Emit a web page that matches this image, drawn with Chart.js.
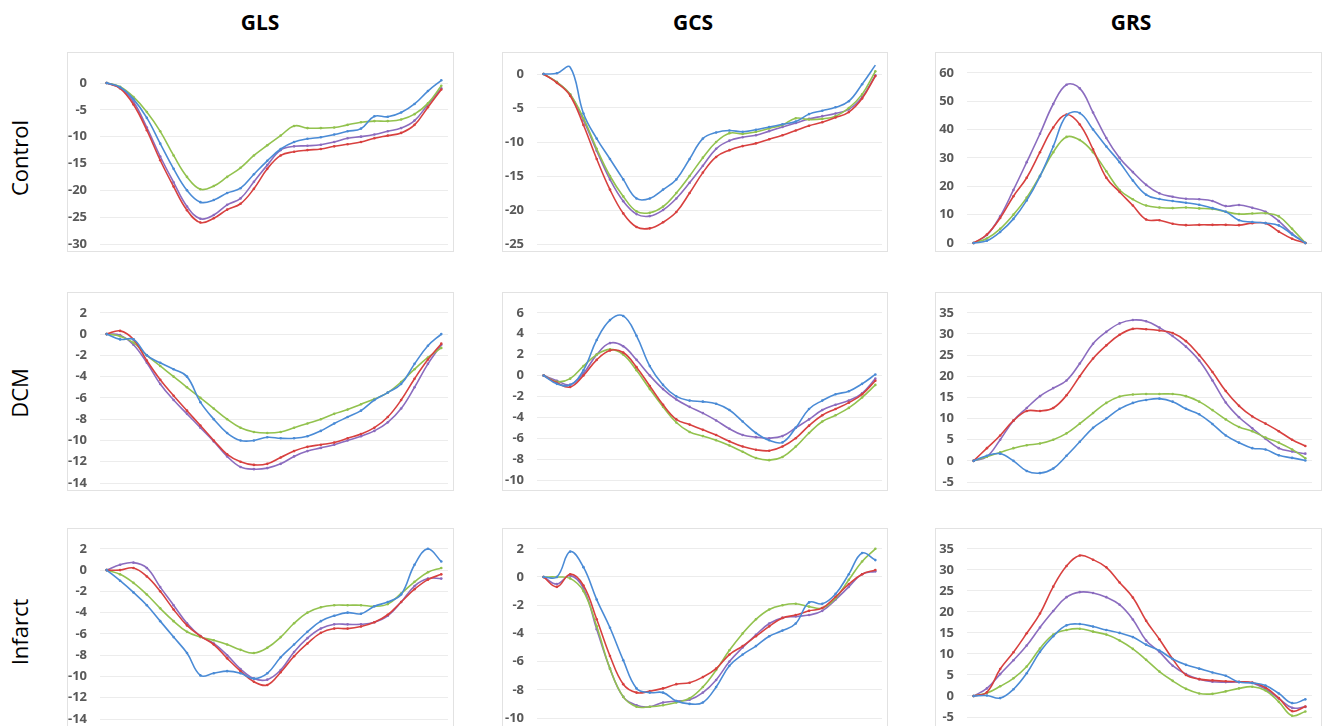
<!DOCTYPE html>
<html>
<head>
<meta charset="utf-8">
<script src="https://cdn.jsdelivr.net/npm/chart.js@4.4.0/dist/chart.umd.min.js"></script>
<style>
  body { margin: 0; width: 1323px; height: 726px; overflow: hidden; background: #fff; position: relative; font-family: "Open Sans", sans-serif; }
  canvas { position: absolute; }
  .box { position: absolute; border: 1px solid #e2e2e2; box-sizing: border-box; pointer-events: none; }
  .title { position: absolute; font-weight: 700; font-size: 21px; line-height: 1; transform: translate(-50%, -50%); color: #000; }
  .row { position: absolute; font-size: 22px; line-height: 1; white-space: nowrap; transform: translate(-50%, -50%) rotate(-90deg); color: #000; }
</style>
</head>
<body>
<div class="title" style="left:260px;top:22px">GLS</div>
<div class="title" style="left:693px;top:22px">GCS</div>
<div class="title" style="left:1131px;top:22px">GRS</div>
<div class="row" style="left:19px;top:158px">Control</div>
<div class="row" style="left:19px;top:393px">DCM</div>
<div class="row" style="left:19px;top:632px">Infarct</div>
<script>
// frames of the cycle (x categories, not shown)
const frames = [1,2,3,4,5,6,7,8,9,10,11,12,13,14,15,16,17,18,19,20,21,22,23,24,25,26];

// tick labels
const glsControlTicks = [-30,-25,-20,-15,-10,-5,0];
const gcsControlTicks = [-25,-20,-15,-10,-5,0];
const grsControlTicks = [0,10,20,30,40,50,60];
const glsDcmTicks = [-14,-12,-10,-8,-6,-4,-2,0,2];
const gcsDcmTicks = [-10,-8,-6,-4,-2,0,2,4,6];
const grsDcmTicks = [-5,0,5,10,15,20,25,30,35];
const glsInfarctTicks = [-14,-12,-10,-8,-6,-4,-2,0,2];
const gcsInfarctTicks = [-10,-8,-6,-4,-2,0,2];
const grsInfarctTicks = [-5,0,5,10,15,20,25,30,35];

// GLS - Control
const glsControlBlue   = [0,-0.8,-3,-6.5,-11.3,-16,-20,-22.2,-21.8,-20.5,-19.6,-17,-14.5,-12.3,-11,-10.4,-10.1,-9.6,-9,-8.5,-6.2,-6.3,-5.5,-3.9,-1.5,0.5];
const glsControlRed    = [0,-1,-4,-8.8,-14.4,-19.3,-23.7,-26,-25.2,-23.6,-22.5,-19.7,-16,-13.5,-12.8,-12.5,-12.3,-11.8,-11.4,-11,-10.3,-9.8,-9.3,-7.8,-4.5,-1.2];
const glsControlGreen  = [0,-0.7,-2.6,-5.4,-9,-13.5,-17.5,-19.8,-19.2,-17.5,-15.8,-13.5,-11.6,-9.8,-8,-8.4,-8.4,-8.3,-7.8,-7.3,-7.1,-7.1,-6.8,-5.8,-3.8,-0.5];
const glsControlPurple = [0,-0.9,-3.5,-8.3,-13.7,-18.5,-23,-25.3,-24.6,-22.7,-21.5,-18.4,-15.3,-12.5,-11.8,-11.7,-11.5,-11,-10.3,-10,-9.6,-9,-8.4,-7,-4,-1];

// GCS - Control
const gcsControlBlue   = [0,0.1,1,-5.8,-9.5,-12.5,-15.5,-18.3,-18.3,-17,-15.5,-12.5,-9.5,-8.6,-8.3,-8.5,-8.2,-7.8,-7.4,-7,-5.9,-5.4,-4.9,-4,-1.5,1.3];
const gcsControlRed    = [0,-1.3,-3.2,-7.5,-12.5,-17,-20.5,-22.5,-22.7,-21.8,-20.3,-17.5,-14.5,-12.2,-11.2,-10.6,-10.2,-9.6,-9,-8.3,-7.6,-7.1,-6.4,-5.6,-3.6,-0.3];
const gcsControlGreen  = [0,-1.2,-3,-6.5,-11,-15,-18,-20.2,-20.4,-19.5,-17.5,-15,-12.3,-10,-8.7,-8.8,-8.5,-8,-7.5,-6.5,-6.7,-6.6,-6.2,-5,-3,0.4];
const gcsControlPurple = [0,-1.2,-3,-6.8,-11.3,-15.5,-18.7,-20.6,-20.9,-20,-18.3,-16,-13.5,-11,-9.8,-9.3,-9,-8.4,-7.8,-7.2,-6.6,-6.2,-5.8,-5.2,-3.4,-0.2];

// GRS - Control
const grsControlBlue   = [0,0.8,3.9,8.5,15,23.5,34,45,45.8,40,34,28.5,22,17,15.5,14.8,14.2,13.5,12.3,11,8,7.4,7,6.2,3,0];
const grsControlRed    = [0,3,8.8,16.5,23,32,40.7,45.3,41.8,33,23,18,13.2,8.3,8,6.8,6.3,6.4,6.4,6.4,6.3,7,7,4,1.5,0];
const grsControlGreen  = [0,1.6,5,10,16,23.7,32,37.4,36.3,32,25.3,18.7,15.4,13.2,12.5,12.3,12.5,12.2,12,11,10.2,10.4,10.5,9.4,5,0];
const grsControlPurple = [0,2.8,9.4,18.7,28.5,38.5,49,55.8,54.5,46,37,30,25,20.5,17.5,16.3,15.6,15.4,14.8,13,13.4,12.4,11,7.7,3.3,0];

// GLS - DCM
const glsDcmBlue   = [0,-0.5,-0.5,-2,-2.7,-3.3,-4,-6.4,-8,-9.3,-10,-10,-9.7,-9.8,-9.8,-9.6,-9.1,-8.4,-7.8,-7.2,-6.2,-5.5,-4.7,-2.8,-1.1,0];
const glsDcmRed    = [0,0.3,-0.5,-2.5,-4.3,-5.8,-7.2,-8.6,-10,-11.3,-12,-12.3,-12.2,-11.6,-11,-10.6,-10.4,-10.2,-9.8,-9.4,-8.8,-7.8,-6.2,-4.2,-2.4,-0.9];
const glsDcmGreen  = [0,-0.2,-0.8,-2,-3,-4,-5,-6,-7,-8,-8.8,-9.2,-9.3,-9.2,-8.8,-8.4,-8,-7.5,-7.1,-6.6,-6.1,-5.5,-4.5,-3.3,-2.2,-1.3];
const glsDcmPurple = [0,-0.1,-1,-2.7,-4.7,-6.2,-7.5,-8.8,-10.1,-11.5,-12.5,-12.7,-12.6,-12.2,-11.5,-11,-10.7,-10.4,-10,-9.6,-9.1,-8.3,-7,-5,-2.8,-1];

// GCS - DCM
const gcsDcmBlue   = [0,-0.8,-0.9,0.5,3.4,5.3,5.7,3.8,0.9,-0.9,-2,-2.4,-2.5,-2.7,-3.3,-4.4,-5.5,-6.2,-6.4,-5,-3.2,-2.4,-1.8,-1.5,-0.8,0.1];
const gcsDcmRed    = [0,-0.7,-1.1,0,1.5,2.4,2.2,0.8,-1,-2.8,-4.2,-4.7,-5.2,-5.7,-6.3,-6.8,-7.1,-7.2,-6.8,-6,-4.8,-3.8,-3.2,-2.6,-1.8,-0.5];
const gcsDcmGreen  = [0,-0.6,-0.3,0.9,2,2.5,2,0.5,-1.3,-3,-4.5,-5.4,-5.8,-6.2,-6.7,-7.3,-7.9,-8.1,-7.8,-6.8,-5.5,-4.4,-3.8,-3.1,-2.1,-0.9];
const gcsDcmPurple = [0,-0.5,-0.9,0.2,2,3.1,2.8,1.5,0,-1.3,-2.3,-3,-3.6,-4.3,-5.1,-5.7,-5.9,-6,-5.8,-5,-4.2,-3.3,-2.8,-2.4,-1.7,-0.3];

// GRS - DCM
const grsDcmBlue   = [0,1.2,1.7,0,-2.4,-2.9,-1.8,1.2,4.5,7.8,10,12.3,13.7,14.4,14.7,14,12.3,11,8.7,6,4.3,3,2.7,1.3,0.7,0.1];
const grsDcmRed    = [0,3,6,9.5,11.8,11.8,12.5,15.5,20,24.2,27.3,29.8,31.2,31.1,30.8,30.2,28.3,25,21,16.5,13,10.5,8.8,7,5,3.5];
const grsDcmGreen  = [0,1,2,3,3.7,4.1,5,6.5,8.8,11.3,13.7,15.2,15.7,15.8,15.8,15.8,15.3,14,12,9.8,8,7,5.5,4.3,2.7,0.6];
const grsDcmPurple = [0,1,5,9.5,12.5,15.3,17.2,19,23,27.7,30.5,32.5,33.3,33,31.5,29.5,27,23.7,19,13.8,10.3,7.7,5.2,3,2.2,1.7];

// GLS - Infarct
const glsInfarctBlue   = [0,-1,-2.1,-3.3,-4.8,-6.3,-7.8,-9.9,-9.7,-9.5,-9.7,-10.2,-9.7,-8.2,-7,-5.8,-4.8,-4.3,-4,-4.1,-3.4,-3,-2.3,0.5,2,0.8];
const glsInfarctRed    = [0,0,0.2,-0.6,-2,-3.7,-5.2,-6.2,-7,-8.3,-9.5,-10.5,-10.8,-9.6,-8.1,-6.9,-5.9,-5.5,-5.5,-5.3,-4.9,-4.2,-3,-1.8,-0.9,-0.4];
const glsInfarctGreen  = [0,-0.4,-1.2,-2.3,-3.6,-4.8,-5.8,-6.3,-6.6,-7,-7.5,-7.8,-7.3,-6.3,-5,-4,-3.5,-3.3,-3.3,-3.3,-3.4,-3.2,-2.2,-1.1,-0.2,0.2];
const glsInfarctPurple = [0,0.5,0.7,0.2,-1.6,-3.3,-5,-6.2,-6.9,-8,-9.3,-10.2,-10.3,-9.4,-7.7,-6.4,-5.5,-5.1,-5.1,-5.1,-4.9,-4.3,-3,-1.5,-0.8,-0.8];

// GCS - Infarct
const gcsInfarctBlue   = [0,0,1.8,0.7,-1.6,-3.6,-5.9,-7.9,-8.2,-8.2,-8.8,-9,-8.9,-7.8,-6.3,-5.5,-4.9,-4.2,-3.8,-3.3,-1.8,-1.9,-1.2,0.2,1.7,1.2];
const gcsInfarctRed    = [0,-0.7,0.2,-0.6,-3,-5.6,-7.6,-8.2,-8.1,-7.9,-7.6,-7.5,-7.1,-6.5,-5.5,-4.9,-4.2,-3.5,-2.9,-2.7,-2.4,-2.2,-1.4,-0.5,0.2,0.5];
const gcsInfarctGreen  = [0,0,-0.1,-1,-3.5,-6.5,-8.5,-9.2,-9.2,-9.1,-8.9,-8.6,-7.8,-6.6,-5.2,-4,-3,-2.3,-2,-1.9,-2.1,-2.2,-1.5,-0.2,1.1,2];
const gcsInfarctPurple = [0,-0.5,0.1,-0.8,-3.7,-6.5,-8.5,-9.1,-9.2,-8.9,-8.8,-8.7,-8.2,-7.3,-6,-5,-4.1,-3.3,-2.9,-2.8,-2.7,-2.4,-1.6,-0.7,0.2,0.4];

// GRS - Infarct
const grsInfarctBlue   = [0,0.1,-0.5,1.6,5.4,10.5,14.2,16.8,17.1,16.5,15.7,15,14,12.2,10.8,8.8,7.4,6.5,5.6,4.8,3.3,3.1,2.5,0.6,-1.7,-0.8];
const grsInfarctRed    = [0,0.9,6.4,10.4,14.9,19.6,26,30.9,33.4,32.4,30.6,27,23.4,17.9,13.5,8.8,5,4,3.7,3.5,3.4,3.2,2,-0.5,-3.6,-2.5];
const grsInfarctGreen  = [0,0.7,2.3,4.2,7,11.3,14.6,15.7,16,15.3,14.6,13.2,11.2,8.6,5.8,3.6,1.7,0.6,0.5,1.1,1.8,2.2,1.3,-1.4,-4.7,-3.7];
const grsInfarctPurple = [0,1.8,5.2,8.5,12,16.3,20.2,23.5,24.7,24.5,23.5,21.7,18.2,13.2,10.5,7.2,5.2,4,3.4,3.3,3.3,3.1,1.6,-0.6,-2.8,-2.6];

const colors = ['#4a8bd6', '#d8403f', '#92c24e', '#8b6cbf'];

// column geometry: canvas left/width, y-axis width, right padding
const cols = [
  { left: 67,  width: 387, axis: 33, right: 6 },
  { left: 502, width: 386, axis: 35, right: 6 },
  { left: 935, width: 387, axis: 32, right: 10 }
];
// row geometry: box top/height
const rows = [
  { top: 52,  height: 200 },
  { top: 292, height: 199 },
  { top: 528, height: 215 }
];

const panels = [
  { r: 0, c: 0, ticks: glsControlTicks, series: [glsControlBlue, glsControlRed, glsControlGreen, glsControlPurple], pt: 31, yBottom: 244 },
  { r: 0, c: 1, ticks: gcsControlTicks, series: [gcsControlBlue, gcsControlRed, gcsControlGreen, gcsControlPurple], pt: 22, yBottom: 244 },
  { r: 0, c: 2, ticks: grsControlTicks, series: [grsControlBlue, grsControlRed, grsControlGreen, grsControlPurple], pt: 10, yBottom: 243 },
  { r: 1, c: 0, ticks: glsDcmTicks, series: [glsDcmBlue, glsDcmRed, glsDcmGreen, glsDcmPurple], pt: 9, yBottom: 483 },
  { r: 1, c: 1, ticks: gcsDcmTicks, series: [gcsDcmBlue, gcsDcmRed, gcsDcmGreen, gcsDcmPurple], pt: 10, yBottom: 480 },
  { r: 1, c: 2, ticks: grsDcmTicks, series: [grsDcmBlue, grsDcmRed, grsDcmGreen, grsDcmPurple], pt: 9, yBottom: 482 },
  { r: 2, c: 0, ticks: glsInfarctTicks, series: [glsInfarctBlue, glsInfarctRed, glsInfarctGreen, glsInfarctPurple], pt: 20, yBottom: 719 },
  { r: 2, c: 1, ticks: gcsInfarctTicks, series: [gcsInfarctBlue, gcsInfarctRed, gcsInfarctGreen, gcsInfarctPurple], pt: 9, yBottom: 718 },
  { r: 2, c: 2, ticks: grsInfarctTicks, series: [grsInfarctBlue, grsInfarctRed, grsInfarctGreen, grsInfarctPurple], pt: 9, yBottom: 717 }
];

panels.forEach(p => {
  const col = cols[p.c], row = rows[p.r];
  const h = row.height + 25;

  const canvas = document.createElement('canvas');
  canvas.width = col.width;
  canvas.height = h;
  canvas.style.left = col.left + 'px';
  canvas.style.top = row.top + 'px';
  document.body.appendChild(canvas);

  const box = document.createElement('div');
  box.className = 'box';
  box.style.left = col.left + 'px';
  box.style.top = row.top + 'px';
  box.style.width = col.width + 'px';
  box.style.height = row.height + 'px';
  document.body.appendChild(box);

  new Chart(canvas.getContext('2d'), {
    type: 'line',
    data: {
      labels: frames,
      datasets: p.series.map((d, i) => ({
        data: d,
        borderColor: colors[i],
        backgroundColor: colors[i],
        pointBackgroundColor: colors[i],
        fill: false,
        clip: false
      }))
    },
    options: {
      responsive: false,
      animation: false,
      layout: { padding: { top: p.pt, bottom: row.top + h - p.yBottom, left: 0, right: col.right } },
      plugins: { legend: { display: false }, tooltip: { enabled: false } },
      elements: {
        line: { borderWidth: 1.6, tension: 0.4 },
        point: { radius: 1.3, borderWidth: 0 }
      },
      scales: {
        x: { type: 'category', display: false, offset: true },
        y: {
          min: p.ticks[0],
          max: p.ticks[p.ticks.length - 1],
          afterBuildTicks: s => { s.ticks = p.ticks.map(v => ({ value: v })); },
          afterFit: s => { s.width = col.axis; },
          border: { display: false },
          grid: { color: '#ececec', drawTicks: false },
          ticks: {
            color: '#595959',
            padding: 13,
            autoSkip: false,
            font: { family: 'Open Sans', weight: 'bold', size: 13 }
          }
        }
      }
    }
  });
});
</script>
</body>
</html>
